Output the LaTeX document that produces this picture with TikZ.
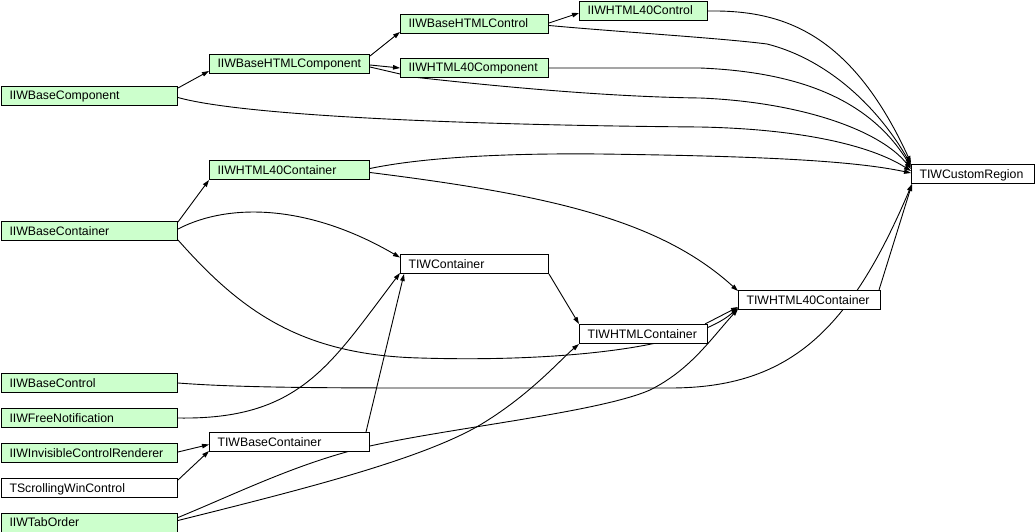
\documentclass[tikz,border=0pt]{standalone}
\usepackage{fontspec}
\setmainfont{Liberation Sans}
\usetikzlibrary{calc,arrows.meta}
\pgfdeclarelayer{bg}
\pgfsetlayers{bg,main}
\definecolor{nodegreen}{RGB}{204,255,204}
\begin{document}
\begin{tikzpicture}[x=1pt,y=-1pt,
  cls/.style={draw=black, line width=1pt, anchor=north west, minimum height=19pt,
    inner xsep=8pt, inner ysep=0pt, align=left,
    font=\fontsize{12.3}{14}\selectfont, text height=10pt, text depth=2pt},
  iface/.style={cls, fill=nodegreen},
  impl/.style={cls, fill=white},
  wA/.style={text width=160pt},
  wB/.style={text width=144pt},
  wC/.style={text width=132pt},
  wD/.style={text width=112pt},
  wE/.style={text width=126pt},
  wF/.style={text width=107pt},
  link/.style={draw=black, line width=0.9pt, -{Triangle[length=7pt,width=4.5pt]}}]
\useasboundingbox (0,0) rectangle (1035,532);
% nodes
\node[iface,wA] (bc)      at (1,86)    {IIWBaseComponent};
\node[iface,wB] (bhc)     at (209,54)  {IIWBaseHTMLComponent};
\node[iface,wC] (bhctl)   at (400,14)  {IIWBaseHTMLControl};
\node[iface,wD] (h40ctl)  at (579,1)   {IIWHTML40Control};
\node[iface,wC] (h40comp) at (400,58)  {IIWHTML40Component};
\node[impl,wF]  (cr)      at (911,164) {TIWCustomRegion};
\node[iface,wB] (h40cont) at (209,160) {IIWHTML40Container};
\node[iface,wA] (bcont)   at (1,221)   {IIWBaseContainer};
\node[impl,wC]  (tc)      at (400,254) {TIWContainer};
\node[impl,wD]  (thc)     at (579,324) {TIWHTMLContainer};
\node[impl,wE]  (th40c)   at (738,290) {TIWHTML40Container};
\node[iface,wA] (bctl)    at (1,373)   {IIWBaseControl};
\node[iface,wA] (fn)      at (1,408)   {IIWFreeNotification};
\node[iface,wA] (icr)     at (1,443)   {IIWInvisibleControlRenderer};
\node[impl,wB]  (tbc)     at (209,432) {TIWBaseContainer};
\node[impl,wA]  (swc)     at (1,478)   {TScrollingWinControl};
\node[iface,wA] (to)      at (1,512.5) {IIWTabOrder};
% connectors
\begin{pgfonlayer}{bg}
\draw[link] ($(bc.north east)+(0,2)$) -- ($(bhc.south west)+(0,-3)$);
\draw[link] ($(bc.east)+(0,1.5)$) .. controls (240,115) and (450,125) .. (700,127)
  .. controls (800,129) and (870,145) .. ($(cr.west)+(0,-3)$);
\draw[link] ($(bhc.north east)+(0,2)$) -- ($(bhctl.south west)+(0,-2)$);
\draw[link] ($(bhc.east)+(0,1)$) -- (h40comp.west);
\draw[link] ($(bhc.east)+(0,3)$) -- (413,77) .. controls (520,89) and (620,97) .. (700,98)
  .. controls (800,102) and (880,130) .. ($(cr.west)+(0,-5)$);
\draw[link] ($(bhctl.east)+(0,-1)$) -- ($(h40ctl.west)+(0,2)$);
\draw[link] ($(bhctl.east)+(0,1.5)$) .. controls (620,32) and (720,38) .. (767,44)
  .. controls (830,60) and (880,110) .. ($(cr.west)+(0,-9)$);
\draw[link] (h40ctl.east) .. controls (780,10) and (850,30) .. ($(cr.west)+(0,-11)$);
\draw[link] (h40comp.east) -- (700,68) .. controls (800,72) and (870,100) .. ($(cr.west)+(0,-7)$);
\draw[link] ($(h40cont.east)+(0,-1.5)$) .. controls (420,158) and (500,153) .. (600,154)
  .. controls (750,156) and (850,160) .. ($(cr.west)+(0,-1)$);
\draw[link] ($(h40cont.east)+(0,2.5)$) .. controls (550,195) and (660,220) .. ($(th40c.north west)+(0,1)$);
\draw[link] ($(bcont.north east)+(0,1)$) -- (h40cont.south west);
\draw[link] ($(bcont.east)+(0,-2)$) .. controls (230,202) and (310,205) .. ($(tc.west)+(0,-6.5)$);
\draw[link] ($(bcont.south east)+(0,-1)$) .. controls (240,310) and (300,355) .. (420,358)
  .. controls (550,362) and (690,350) .. ($(th40c.south west)+(0,-2)$);
\draw[link] (tc.south east) -- (thc.north west);
\draw[link] ($(thc.north east)+(-3,0)$) -- ($(th40c.south west)+(0,-3)$);
\draw[link] ($(th40c.north east)+(-2,0)$) -- ($(cr.south west)+(1,0)$);
\draw[link] (bctl.east) .. controls (230,387) and (300,388) .. (420,388) -- (670,388)
  .. controls (790,388) and (850,330) .. ($(cr.south west)+(1,0)$);
\draw[link] (fn.east) .. controls (300,420) and (330,365) .. ($(tc.south west)+(0,-1)$);
\draw[link] ($(tbc.north east)+(-4,0)$) -- ($(tc.south west)+(4,0)$);
\draw[link] ($(icr.east)+(0,-1)$) -- ($(tbc.west)+(0,2.5)$);
\draw[link] ($(swc.north east)+(0,2)$) -- ($(tbc.south west)+(0,-1)$);
\draw[link] ($(to.east)+(0,-5)$) .. controls (240,492) and (300,462) .. (370,446)
  .. controls (450,428) and (600,412) .. (650,390)
  .. controls (690,370) and (710,340) .. ($(th40c.south west)+(0,-1)$);
\draw[link] ($(to.east)+(0,-2)$) .. controls (300,490) and (420,460) .. (480,425)
  .. controls (530,395) and (560,360) .. (thc.south west);
\end{pgfonlayer}
\end{tikzpicture}
\end{document}
